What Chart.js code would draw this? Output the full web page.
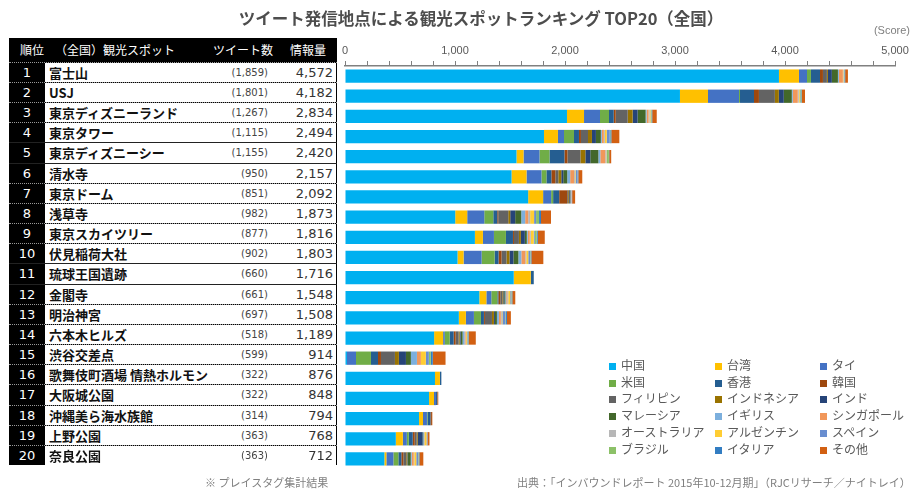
<!DOCTYPE html>
<html>
<head>
<meta charset="utf-8">
<script src="https://cdn.jsdelivr.net/npm/chart.js@4"></script>
<style>
  body { margin: 0; background: #fff; }
  #page { position: relative; width: 923px; height: 501px; overflow: hidden; font-family: "Noto Sans CJK JP", sans-serif; }
  #chartBox { position: absolute; left: 0; top: 0; width: 923px; height: 501px; }
  #title { position: absolute; left: 0; top: 6px; width: 962px; text-align: center; font-size: 16.5px; font-weight: bold; color: #4d4d4d; }
  #score { position: absolute; right: 13px; top: 24px; font: 11px "Liberation Sans", sans-serif; color: #7f7f7f; }
  #table { position: absolute; left: 9px; top: 38px; width: 328px; height: 427px; background: #000; }
  .head { position: absolute; top: 0; height: 23px; line-height: 23px; color: #fff; font-size: 12px; }
  .row { position: absolute; left: 0; width: 328px; height: 20.17px; box-sizing: border-box; border-top: 1px dotted #999; }
  .row.solid { border-top: 1px solid #222; }
  .rank { position: absolute; left: 0; width: 36px; text-align: center; color: #fff; font: 13px "DejaVu Sans", sans-serif; line-height: 19px; }
  .cell { position: absolute; left: 36px; right: 1px; top: 0; bottom: 0; background: #fff; }
  .name { position: absolute; left: 4px; top: 0; font-size: 13px; font-weight: bold; color: #111; line-height: 19px; white-space: nowrap; }
  .tw { position: absolute; right: 68px; top: 0; font: 10px "DejaVu Sans", sans-serif; color: #444; line-height: 20px; }
  .info { position: absolute; right: 3px; top: 0; font: 13px "DejaVu Sans", sans-serif; color: #333; line-height: 19px; }
  #legend { position: absolute; left: 609px; top: 357px; width: 310px; }
  .lg { position: absolute; font-size: 12px; color: #595959; white-space: nowrap; line-height: 16px; }
  .lg i { display: inline-block; width: 7px; height: 7px; margin-right: 5px; vertical-align: 0px; }
  .foot { position: absolute; top: 474px; font-size: 11px; color: #7f7f7f; white-space: nowrap; }
</style>
</head>
<body>
<div id="page">
  <div id="chartBox"><canvas id="rankChart" width="923" height="501"></canvas></div>
  <div id="title">ツイート発信地点による観光スポットランキング TOP20（全国）</div>
  <div id="score">(Score)</div>
  <div id="table"></div>
  <div id="legend"></div>
  <div class="foot" style="left:205px;">※ プレイスタグ集計結果</div>
  <div class="foot" style="left:517px;">出典：「インバウンドレポート 2015年10-12月期」（RJCリサーチ／ナイトレイ）</div>
</div>
<script>
// Ranking table
const spots = ['富士山', 'USJ', '東京ディズニーランド', '東京タワー', '東京ディズニーシー', '清水寺', '東京ドーム', '浅草寺',
  '東京スカイツリー', '伏見稲荷大社', '琉球王国遺跡', '金閣寺', '明治神宮', '六本木ヒルズ', '渋谷交差点',
  '歌舞伎町酒場 情熱ホルモン', '大阪城公園', '沖縄美ら海水族館', '上野公園', '奈良公園'];
const tweetCounts = [1859, 1801, 1267, 1115, 1155, 950, 851, 982, 877, 902, 660, 661, 697, 518, 599, 322, 322, 314, 363, 363];
const totals = [4572, 4182, 2834, 2494, 2420, 2157, 2092, 1873, 1816, 1803, 1716, 1548, 1508, 1189, 914, 876, 848, 794, 768, 712];

// Score by country of the tweet
const countries = ['中国', '台湾', 'タイ', '米国', '香港', '韓国', 'フィリピン', 'インドネシア', 'インド', 'マレーシア',
  'イギリス', 'シンガポール', 'オーストラリア', 'アルゼンチン', 'スペイン', 'ブラジル', 'イタリア', 'その他'];
const china       = [3945, 3045, 2018, 1809, 1559, 1514, 1665, 1002, 1181, 1023, 1534, 1221, 1035, 810, 18, 818, 764, 673, 462, 358];
const taiwan      = [182, 255, 155, 127, 64, 136, 136, 109, 73, 55, 155, 64, 64, 82, 0, 45, 45, 36, 64, 18];
const thailand    = [73, 282, 145, 55, 145, 136, 73, 155, 100, 164, 0, 45, 73, 15, 82, 0, 18, 36, 36, 64];
const usa         = [36, 9, 82, 91, 91, 45, 18, 82, 109, 118, 0, 55, 64, 45, 136, 0, 0, 5, 18, 45];
const hongkong    = [82, 127, 43, 45, 136, 45, 55, 36, 64, 36, 27, 9, 27, 36, 64, 13, 9, 27, 36, 27];
const korea       = [27, 45, 18, 18, 27, 36, 73, 9, 9, 27, 0, 18, 9, 18, 27, 0, 5, 13, 18, 18];
const philippines = [36, 145, 109, 64, 118, 27, 9, 91, 45, 45, 0, 18, 64, 27, 127, 0, 3, 0, 18, 27];
const indonesia   = [9, 36, 45, 36, 45, 27, 9, 18, 18, 27, 0, 9, 18, 9, 36, 0, 0, 0, 9, 9];
const india       = [36, 45, 45, 36, 45, 18, 9, 45, 36, 36, 0, 9, 9, 9, 64, 0, 0, 0, 45, 5];
const malaysia    = [55, 73, 73, 45, 73, 36, 3, 55, 18, 45, 0, 9, 18, 18, 45, 0, 0, 0, 5, 27];
const uk          = [9, 9, 9, 9, 18, 27, 3, 36, 9, 27, 0, 9, 18, 18, 55, 0, 0, 0, 9, 9];
const singapore   = [36, 45, 18, 18, 45, 36, 3, 27, 18, 36, 0, 9, 18, 9, 36, 0, 0, 0, 3, 18];
const australia   = [5, 9, 9, 9, 9, 9, 3, 18, 9, 9, 0, 9, 9, 5, 0, 0, 0, 0, 0, 5];
const argentina   = [5, 9, 9, 18, 3, 5, 0, 36, 27, 18, 0, 18, 5, 9, 45, 0, 0, 0, 18, 18];
const spain       = [3, 5, 5, 27, 3, 18, 3, 18, 9, 18, 0, 9, 27, 5, 27, 0, 0, 0, 9, 18];
const brazil      = [3, 9, 5, 5, 18, 3, 0, 27, 18, 5, 0, 5, 5, 5, 18, 0, 0, 0, 0, 5];
const italy       = [5, 5, 5, 9, 3, 3, 3, 18, 9, 5, 0, 5, 9, 5, 18, 0, 0, 0, 0, 5];
const other       = [25, 29, 41, 73, 18, 36, 27, 91, 64, 109, 0, 27, 36, 64, 116, 0, 4, 4, 18, 36];

const series = [china, taiwan, thailand, usa, hongkong, korea, philippines, indonesia, india, malaysia,
  uk, singapore, australia, argentina, spain, brazil, italy, other];
const colors = ['#00B0F0', '#FFC000', '#4472C4', '#70AD47', '#255E91', '#9E480E', '#636363', '#997300', '#264478',
  '#43682B', '#7CAFDD', '#F1975A', '#B7B7B7', '#FFCD33', '#698ED0', '#8CC168', '#327DC2', '#D26012'];

// Build left table
const table = document.getElementById('table');
table.innerHTML = `
  <div class="head" style="left:11px;">順位</div>
  <div class="head" style="left:46px;">（全国）観光スポット</div>
  <div class="head" style="left:204px;">ツイート数</div>
  <div class="head" style="left:281px;">情報量</div>`;
const solidLines = [5, 6, 11, 12];
spots.forEach((spot, i) => {
  const row = document.createElement('div');
  row.className = 'row' + (solidLines.includes(i + 1) ? ' solid' : '');
  row.style.top = (23.7 + i * 20.17) + 'px';
  row.innerHTML = `
    <div class="rank">${i + 1}</div>
    <div class="cell">
      <div class="name">${spot}</div>
      <div class="tw">(${tweetCounts[i].toLocaleString('en-US')})</div>
      <div class="info">${totals[i].toLocaleString('en-US')}</div>
    </div>`;
  table.appendChild(row);
});

// Legend, 3 columns
const legend = document.getElementById('legend');
countries.forEach((c, i) => {
  const item = document.createElement('div');
  item.className = 'lg';
  item.style.left = [0, 106, 211][i % 3] + 'px';
  item.style.top = (Math.floor(i / 3) * 16.7) + 'px';
  item.innerHTML = `<i style="background:${colors[i]}"></i>${c}`;
  legend.appendChild(item);
});

// Stacked bar chart
const ctx = document.getElementById('rankChart').getContext('2d');
new Chart(ctx, {
  type: 'bar',
  data: {
    labels: spots,
    datasets: countries.map((c, i) => ({
      label: c,
      data: series[i],
      backgroundColor: colors[i],
      borderWidth: 0,
      barPercentage: 0.66,
      categoryPercentage: 1,
    })),
  },
  options: {
    indexAxis: 'y',
    responsive: false,
    animation: false,
    layout: { padding: { top: 35, left: 345, right: 28, bottom: 32 } },
    plugins: { legend: { display: false }, tooltip: { enabled: false } },
    scales: {
      x: {
        position: 'top',
        stacked: true,
        min: 0,
        max: 5000,
        ticks: {
          stepSize: 200,
          autoSkip: false,
          maxRotation: 0,
          padding: 3,
          color: '#595959',
          font: { size: 11, family: 'Liberation Sans' },
          callback: v => (v % 1000 === 0 ? v.toLocaleString('en-US') : ''),
        },
        grid: { drawOnChartArea: false, tickLength: 5, color: '#808080' },
        border: { color: '#808080', width: 1.5 },
        afterFit: s => { s.height = 31; },
      },
      y: { display: false, stacked: true },
    },
  },
});
</script>
</body>
</html>
